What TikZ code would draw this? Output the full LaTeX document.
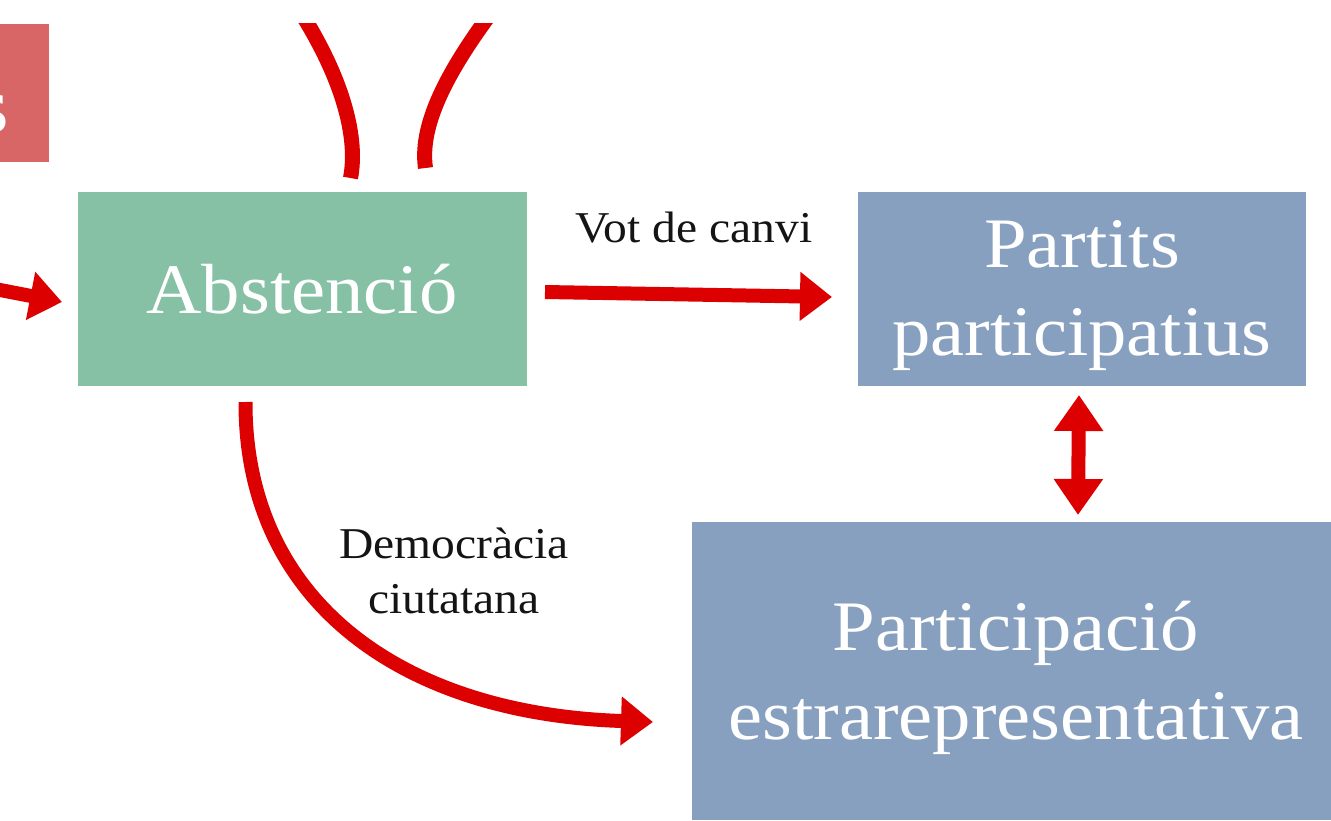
\documentclass[tikz,border=0pt]{standalone}
\usepackage{fontspec}
\setmainfont{Liberation Serif}[FakeStretch=1.08]
\usetikzlibrary{arrows.meta,calc}
\definecolor{redc}{RGB}{221,0,0}
\definecolor{greenc}{RGB}{134,193,165}
\definecolor{bluec}{RGB}{135,160,191}
\definecolor{pinkc}{RGB}{216,102,102}
\begin{document}
\begin{tikzpicture}[x=1pt,y=-1pt,
  box/.style={draw=none,inner sep=0pt,outer sep=0pt},
  bigtxt/.style={text=white,font=\fontsize{71}{88}\selectfont,inner sep=0pt,anchor=base},
  lbl/.style={text=black!92,font=\fontsize{44}{55}\selectfont,inner sep=0pt,anchor=base},
  conn/.style={draw=redc,line width=14pt},
  headtip/.style={-{Triangle[width=47pt,length=32pt]}},
  bothtip/.style={{Triangle[width=47pt,length=36pt]}-{Triangle[width=47pt,length=36pt]}}
]
\useasboundingbox (0,0) rectangle (1331,821);
\fill[white] (0,0) rectangle (1331,821);
\clip (0,0) rectangle (1331,821);

% boxes
\node[box,fill=pinkc,minimum width=199pt,minimum height=138pt] (pk) at (-50.5,93) {};
\node[box,fill=greenc,minimum width=449pt,minimum height=194pt] (abs) at (302.5,289) {};
\node[box,fill=bluec,minimum width=448pt,minimum height=194pt] (pp) at (1082,289) {};
\node[box,fill=bluec,minimum width=653pt,minimum height=298pt] (pe) at (1018.5,671) {};

% box texts
\node[text=white,font=\fontsize{80}{96}\selectfont,inner sep=0pt,anchor=base east] (pks) at (9,133) {s};
\node[bigtxt] (absT) at (302,313) {Abstenció};
\node[bigtxt] (ppA) at (1082,268) {Partits};
\node[bigtxt] (ppB) at (1082,355) {participatius};
\node[bigtxt] (peA) at (1016,650) {Participació};
\node[bigtxt] (peB) at (1016,739) {estrarepresentativa};

% labels
\node[lbl] (vot) at (694,243) {Vot de canvi};
\node[lbl] (demA) at (454,558) {Democràcia};
\node[lbl] (demB) at (454,613) {ciutatana};

% free ends
\coordinate (lstart) at (-5,289);
\coordinate (t1) at (296,5);
\coordinate (t2) at (497,5);

% connectors
\draw[conn,headtip] (lstart) -- ($(abs.west)+(-16,13)$);
\draw[conn,headtip] ($(abs.east)+(18,3)$) -- ($(pp.west)+(-26,8)$);
\draw[conn,bothtip] ($(pp.south)+(-3,9)$) -- ($(pp.south|-pe.north)+(-4,-7)$);
\draw[conn,headtip] ($(abs.south)+(-57,16)$) .. controls (245,600) and (400,714) .. ($(pe.west)+(-39,51)$);

\begin{scope}
\clip (0,24) rectangle (1331,821);
\draw[draw=redc,line width=15pt] (t1) .. controls (345,80) and (358,140) .. ($(abs.north)+(48,-14)$);
\draw[draw=redc,line width=15pt] (t2) .. controls (440,80) and (420,130) .. ($(abs.north)+(123,-24)$);
\end{scope}
\end{tikzpicture}
\end{document}
